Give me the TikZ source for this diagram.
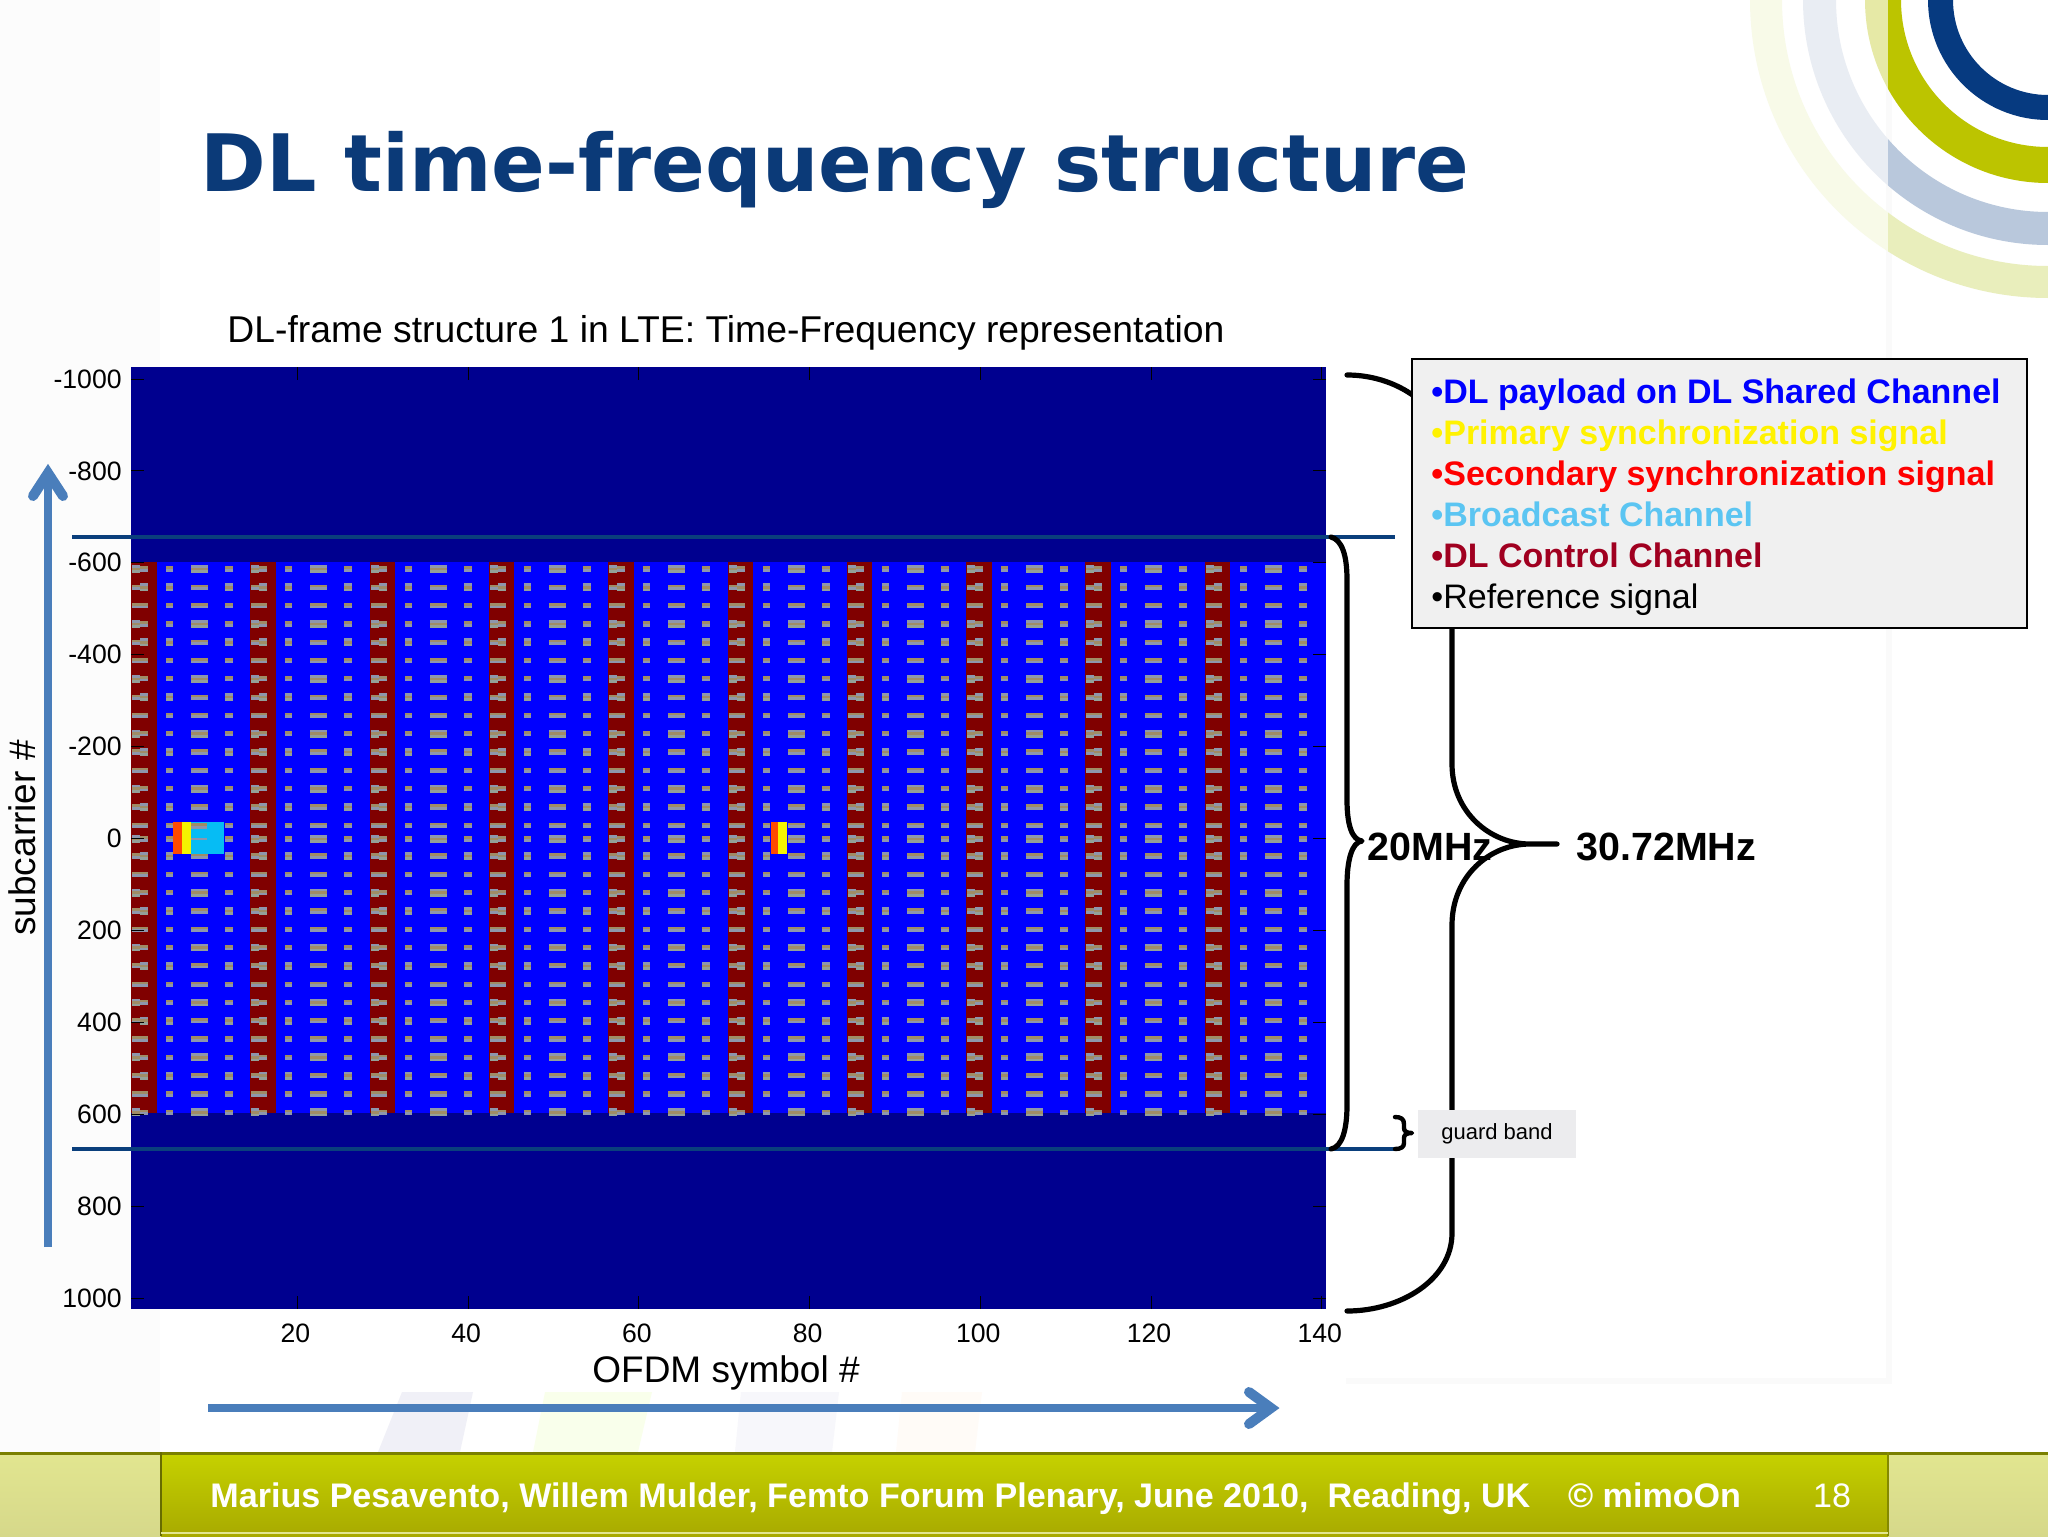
\documentclass[tikz,border=0pt]{standalone}
\usepackage{fontspec}
\setmainfont{Liberation Sans}
\newfontfamily\titlefont{DejaVu Sans}
\definecolor{navyring}{HTML}{063A80}
\definecolor{greenring}{HTML}{BCC400}
\definecolor{greenringl}{HTML}{E6E9A6}
\definecolor{bluering}{HTML}{B9C8DC}
\definecolor{blueringl}{HTML}{E9EDF3}
\definecolor{paleg}{HTML}{E9EEBC}
\definecolor{palegl}{HTML}{F8FAE8}
\definecolor{titleblue}{HTML}{0B3A78}
\definecolor{darkplot}{HTML}{00008F}
\definecolor{blueplot}{HTML}{0000FF}
\definecolor{redplot}{HTML}{800000}
\definecolor{syncred}{HTML}{FF4A00}
\definecolor{syncyel}{HTML}{F4F400}
\definecolor{synccy}{HTML}{06BCF4}
\definecolor{lineblue}{HTML}{0A3F7C}
\definecolor{arrowblue}{HTML}{4A7EBB}
\definecolor{legbg}{HTML}{F0F0F0}
\definecolor{gbbg}{HTML}{ECECEE}
\definecolor{stA}{HTML}{A08C66}
\definecolor{stB}{HTML}{8E96AC}
\definecolor{stC}{HTML}{94A098}
\definecolor{legcy}{HTML}{5BC5F2}
\definecolor{legdr}{HTML}{A00020}
\definecolor{footA}{HTML}{C6D200}
\definecolor{footB}{HTML}{A8AA00}
\definecolor{sideA}{HTML}{E2E690}
\definecolor{sideB}{HTML}{D6D88A}
\newcommand{\fsz}[1]{\fontsize{#1}{#1}\selectfont}
% one reference mark: #1,#2 x range, #3 row centre, #4 = 1 (two lines) or 2 (three lines)
\newcommand{\strp}[4]{%
  \ifdim #4pt>1.5pt
    \fill[stB] (#1,#3-3.9) rectangle (#2,#3-1.3);
    \fill[stA] (#1,#3-1.3) rectangle (#2,#3+1.3);
    \fill[stC] (#1,#3+1.3) rectangle (#2,#3+3.9);
  \else
    \fill[stA] (#1,#3-2.6) rectangle (#2,#3);
    \fill[stB] (#1,#3) rectangle (#2,#3+2.6);
  \fi}
\tikzset{
  ticklab/.style={inner sep=0pt,font=\fsz{13.3pt}},
  axlab/.style={inner sep=0pt,font=\fsz{18.5pt}},
  legline/.style={inner sep=0pt,anchor=base west,font=\fsz{17pt}\bfseries},
  blk/.style={line width=2.6pt,black,line cap=round},
  hline/.style={line width=2pt,lineblue},
  blarrow/.style={line width=4pt,arrowblue},
  chev/.style={line width=5pt,arrowblue,line cap=round,line join=miter},
}
\begin{document}
\begin{tikzpicture}[x=.5pt,y=-.5pt]
\useasboundingbox (0,0) rectangle (2048,1536);
\fill[white] (0,0) rectangle (2048,1536);
% faint slide panel traces
\fill[black!1] (0,0) rectangle (160,1452);
\fill[black!2] (1886,0) rectangle (1892,1380);
\fill[black!2] (1346,1378) rectangle (1892,1384);
% rings
\begin{scope}
\clip (1600,0) rectangle (1888,400);
\fill[palegl,even odd rule] (2048,0) circle (298) (2048,0) circle (266);
\fill[blueringl,even odd rule] (2048,0) circle (245) (2048,0) circle (212);
\fill[greenringl,even odd rule] (2048,0) circle (183) (2048,0) circle (147);
\end{scope}
\begin{scope}
\clip (1888,0) rectangle (2048,400);
\fill[paleg,even odd rule] (2048,0) circle (298) (2048,0) circle (266);
\fill[bluering,even odd rule] (2048,0) circle (245) (2048,0) circle (212);
\fill[greenring,even odd rule] (2048,0) circle (183) (2048,0) circle (147);
\fill[navyring,even odd rule] (2048,0) circle (120) (2048,0) circle (95);
\end{scope}
% ghost stripes
\fill[blue!30!gray!9!white] (402,1392) -- (473,1392) -- (460,1452) -- (378,1452) -- cycle;
\fill[green!30!yellow!8!white] (545,1392) -- (652,1392) -- (638,1452) -- (533,1452) -- cycle;
\fill[blue!30!gray!5!white] (741,1392) -- (839,1392) -- (832,1452) -- (735,1452) -- cycle;
\fill[orange!3!white] (902,1392) -- (982,1392) -- (975,1452) -- (896,1452) -- cycle;
% title
\node[inner sep=0pt,anchor=base west,font=\titlefont\bfseries\fsz{39.6pt},text=titleblue] (title) at (200,191) {DL time-frequency structure};
\node[inner sep=0pt,font=\fsz{18.65pt}] (ptitle) at (726,333) {DL-frame structure 1 in LTE: Time-Frequency representation};
% plot
\fill[darkplot] (131,367) rectangle (1326,1309);
\fill[blueplot] (131,562) rectangle (1326,1113);
\foreach \p in {0,...,9}{
  \pgfmathsetmacro{\xa}{131+119.3*\p}
  \pgfmathsetmacro{\xb}{\xa+25.5}
  \fill[redplot] (\xa,562) rectangle (\xb,1113);
}
\foreach \k in {0,...,30}{
  \pgfmathsetmacro{\yy}{\k<15 ? 569+18.3*\k : (\k==15 ? 839 : 856+18.3*(\k-16))}
  \pgfmathtruncatemacro{\mm}{mod(\k,3)}
  \pgfmathsetmacro{\nw}{\mm==0 ? 2 : 1}
  \pgfmathsetmacro{\nn}{\mm==1 ? 2 : 1}
  \foreach \p in {0,...,9}{
    \pgfmathsetmacro{\o}{119.3*\p}
    \strp{132+\o}{140+\o}{\yy}{\nw}
    \strp{140+\o}{148+\o}{\yy}{\nn}
    \strp{166+\o}{173+\o}{\yy}{\nn}
    \strp{191+\o}{208+\o}{\yy}{\nw}
    \strp{225+\o}{233+\o}{\yy}{\nn}
  }
}
% sync blocks
\fill[synccy] (191,822) rectangle (224,854);
\strp{191}{207}{826}{1}
\fill[stB] (191,838) rectangle (207,840);
\fill[syncred] (173,822) rectangle (182,854);
\fill[syncyel] (182,822) rectangle (191,854);
\fill[syncred] (771,822) rectangle (778,854);
\fill[syncyel] (778,822) rectangle (787,854);
% ticks and labels
\foreach \v in {20,40,60,80,100,120,140}{
  \pgfmathsetmacro{\xx}{131+(\v-.5)*8.536}
  \draw[black,line width=.5pt] (\xx,1309) -- (\xx,1296) (\xx,367) -- (\xx,380);
  \node[ticklab] (xt\v) at (\xx-2,1333) {\v};
}
\foreach \i/\lab in {0/-1000,1/-800,2/-600,3/-400,4/-200,5/0,6/200,7/400,8/600,9/800,10/1000}{
  \pgfmathsetmacro{\yy}{379+\i*91.9}
  \draw[black,line width=.5pt] (131,\yy) -- (144,\yy) (1326,\yy) -- (1313,\yy);
  \node[ticklab,anchor=east] (yt\i) at (122,\yy) {\lab};
}
\node[axlab] (xlab) at (726,1373) {OFDM symbol \#};
\node[axlab,rotate=90] (ylab) at (22,838) {subcarrier \#};
% level lines
\coordinate (lt1) at (72,537); \coordinate (lt2) at (1395,537);
\coordinate (lb1) at (72,1149); \coordinate (lb2) at (1395,1149);
\draw[hline] (lt1) -- (lt2);
\draw[hline] (lb1) -- (lb2);
% big brace
\coordinate (bt) at (1347,375); \coordinate (bb) at (1347,1311); \coordinate (btip) at (1557,844);
\draw[blk,line join=round] (bt) .. controls (1400,375) and (1452,410) .. (1452,472) -- (1452,764)
  .. controls (1452,812) and (1490,844) .. (1530,844) -- (btip) -- (1530,844)
  .. controls (1490,844) and (1452,876) .. (1452,925) -- (1452,1233)
  .. controls (1452,1280) and (1400,1311) .. (bb);
% 20 MHz brace
\coordinate (st) at (1331,537); \coordinate (sb) at (1331,1149); \coordinate (stip) at (1362,841);
\draw[blk,line join=round] (st) .. controls (1342,540) and (1347,555) .. (1347,580) -- (1347,800)
  .. controls (1347,825) and (1352,840) .. (stip)
  .. controls (1352,842) and (1347,860) .. (1347,885) -- (1347,1105)
  .. controls (1347,1130) and (1342,1147) .. (sb);
% guard brace
\coordinate (gt) at (1395,1117); \coordinate (gb) at (1395,1149); \coordinate (gtip) at (1412,1133);
\draw[blk,line width=2.2pt,line join=round] (gt) .. controls (1401,1117) and (1404,1119) .. (1404,1124) -- (1404,1128)
  .. controls (1404,1131) and (1406,1133) .. (gtip)
  .. controls (1406,1133) and (1404,1135) .. (1404,1138) -- (1404,1143)
  .. controls (1404,1147) and (1401,1149) .. (gb);
% arrows
\coordinate (ha) at (208,1408); \coordinate (hb) at (1271,1408);
\draw[blarrow] (ha) -- (hb);
\draw[chev] (1249,1392) -- (hb) -- (1249,1424);
\coordinate (va) at (48,1247); \coordinate (vb) at (48,473);
\draw[blarrow] (va) -- (vb);
\draw[chev] (33,496) -- (vb) -- (63,496);
% legend
\node[draw=black,line width=1.2pt,fill=legbg,inner sep=0pt,minimum width=307.5pt,minimum height=134.5pt,anchor=north west] (leg) at (1411,358) {};
\node[legline,text=blue] (l1) at (1431,403) {•DL payload on DL Shared Channel};
\node[legline,text=yellow] (l2) at (1431,444) {•Primary synchronization signal};
\node[legline,text=red] (l3) at (1431,485) {•Secondary synchronization signal};
\node[legline,text=legcy] (l4) at (1431,526) {•Broadcast Channel};
\node[legline,text=legdr] (l5) at (1431,567) {•DL Control Channel};
\node[legline,font=\fsz{17pt}] (l6) at (1431,608) {•Reference signal};
% guard box
\node[fill=gbbg,inner sep=0pt,minimum width=79pt,minimum height=24pt,font=\fsz{11pt}] (gbox) at (1497,1134) {\raisebox{-1pt}{guard band}};
% MHz labels
\node[inner sep=0pt,anchor=west,font=\fsz{19.7pt}\bfseries] (m20) at (1367,847) {20MHz};
\node[inner sep=0pt,anchor=west,font=\fsz{19.7pt}\bfseries] (m30) at (1576,847) {30.72MHz};
% footer
\shade[top color=sideA,bottom color=sideB] (0,1452) rectangle (161,1536);
\shade[top color=sideA,bottom color=sideB] (1888,1452) rectangle (2048,1536);
\shade[top color=footA,bottom color=footB] (161,1452) rectangle (1888,1536);
\fill[black!35!greenring] (0,1452) rectangle (2048,1455);
\fill[black!45!greenring] (160,1452) rectangle (162,1536);
\fill[black!30!greenring] (1887,1452) rectangle (1889,1536);
\fill[sideA] (161,1532) rectangle (1888,1534);
\node[inner sep=0pt,anchor=base west,text=white,font=\fsz{17.05pt}\bfseries] (foot) at (210,1507) {Marius Pesavento, Willem Mulder, Femto Forum Plenary, June 2010,\ \ Reading, UK\ \ \ \ © mimoOn};
\node[inner sep=0pt,text=white,font=\fsz{17pt}] (pg) at (1832,1496) {18};
\end{tikzpicture}
\end{document}
